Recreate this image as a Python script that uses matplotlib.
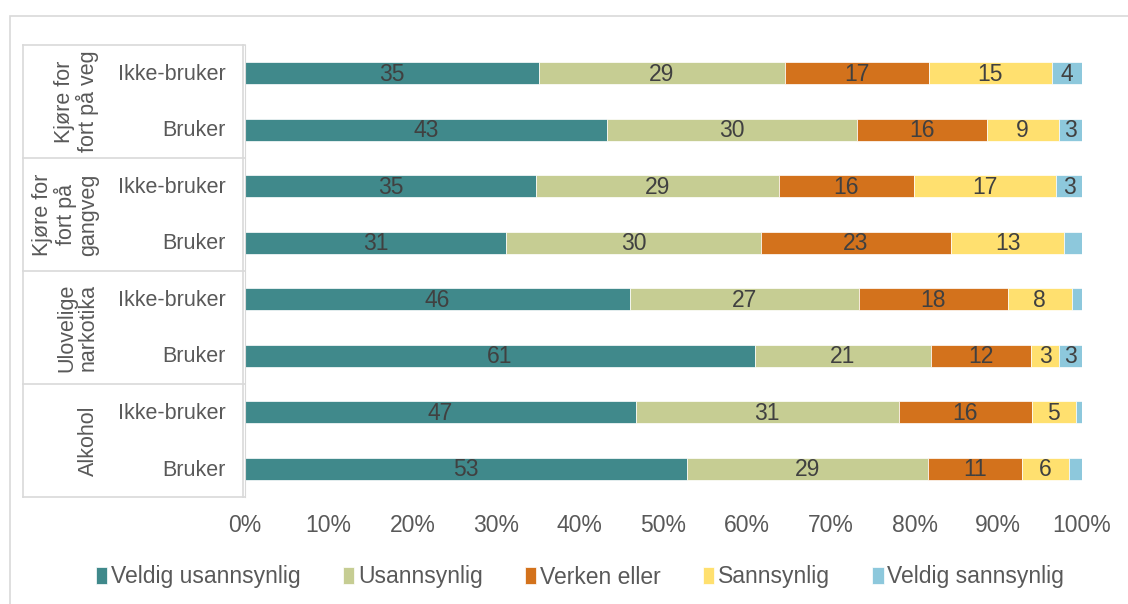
import numpy as np
import matplotlib.pyplot as plt
from matplotlib.lines import Line2D
from matplotlib.patches import Rectangle

plt.rcParams['font.family'] = ['Liberation Sans', 'DejaVu Sans']

groups = ['Kjøre for\nfort på veg', 'Kjøre for\nfort på\ngangveg', 'Ulovelige\nnarkotika', 'Alkohol']
rows = ['Ikke-bruker', 'Bruker']
series = ['Veldig usannsynlig', 'Usannsynlig', 'Verken eller', 'Sannsynlig', 'Veldig sannsynlig']
colors = ['#40898B', '#C6CD93', '#D3721C', '#FFE06F', '#8DC8DC']

# one value per bar, top to bottom
veldig_usannsynlig = [35.1, 43.2, 34.8, 31.2, 46.0, 60.9, 46.7, 52.8]
usannsynlig = [29.4, 29.9, 29.0, 30.4, 27.3, 21.0, 31.4, 28.7]
verken_eller = [17.2, 15.5, 16.1, 22.8, 17.8, 12.0, 15.9, 11.2]
sannsynlig = [14.7, 8.6, 17.0, 13.4, 7.7, 3.4, 5.3, 5.6]
veldig_sannsynlig = [3.6, 2.8, 3.1, 2.2, 1.2, 2.7, 0.7, 1.6]

data = np.array([veldig_usannsynlig, usannsynlig, verken_eller, sannsynlig, veldig_sannsynlig])
data = data / data.sum(axis=0)

fig = plt.figure(figsize=(11.28, 6.04), dpi=100)
W, H = 1128, 604
ax = fig.add_axes([245 / W, 1 - 497 / H, (1082 - 245) / W, (497 - 45) / H])

n = data.shape[1]
y = np.arange(n)
left = np.zeros(n)
for k in range(len(series)):
    ax.barh(y, data[k], left=left, height=0.39, color=colors[k], label=series[k],
            edgecolor='white', linewidth=0.5)
    for i in range(n):
        v = data[k][i] * 100
        if round(v) >= 3:
            ax.text(left[i] + data[k][i] / 2, y[i] + 0.02, str(int(round(v))), ha='center', va='center',
                    fontsize=16.5, color='#404040')
    left += data[k]

ax.set_xlim(0, 1)
ax.set_ylim(n - 0.5, -0.5)
ax.set_xticks(np.linspace(0, 1, 11))
ax.set_xticklabels([f'{int(t)}%' for t in np.linspace(0, 100, 11)], fontsize=16.5, color='#595959')
ax.tick_params(axis='x', length=0, pad=12)
ax.set_yticks([])
for s in ['top', 'right', 'bottom']:
    ax.spines[s].set_visible(False)
ax.spines['left'].set_color('#D9D9D9')

# category table on the left
lc = '#D9D9D9'
for g in range(len(groups) + 1):
    yy = 1 - (45 + g * 113) / H
    fig.add_artist(Line2D([23 / W, 245 / W], [yy, yy], color=lc, lw=1.2))
fig.add_artist(Line2D([23 / W, 23 / W], [1 - 45 / H, 1 - 497 / H], color=lc, lw=1.2))
fig.add_artist(Line2D([243 / W, 243 / W], [1 - 45 / H, 1 - 497 / H], color=lc, lw=1.2))
for g, name in enumerate(groups):
    yc = 1 - (45 + g * 113 + 56.5) / H
    fig.text(99 / W, yc, name, rotation=90, ha='right', va='center', fontsize=15.5,
             color='#595959', linespacing=1.05, multialignment='center')
    for r, rn in enumerate(rows):
        yr = 1 - (74 + (2 * g + r) * 56.6) / H
        fig.text(226 / W, yr, rn, ha='right', va='center', fontsize=15.5, color='#595959')

# outer chart border
fig.add_artist(Rectangle((10 / W, -0.01), 1.2, 1 - 16 / H + 0.01, fill=False,
                         edgecolor='#D9D9D9', lw=1.2, transform=fig.transFigure))

handles, labels = ax.get_legend_handles_labels()
fig.legend(handles, labels, loc='center', bbox_to_anchor=(580 / W, 1 - 577 / H), ncol=5,
           frameon=False, fontsize=16.5, handlelength=0.5, handleheight=0.8,
           handletextpad=0.15, columnspacing=1.85, labelcolor='#595959')

fig.savefig('out.png', dpi=100)
